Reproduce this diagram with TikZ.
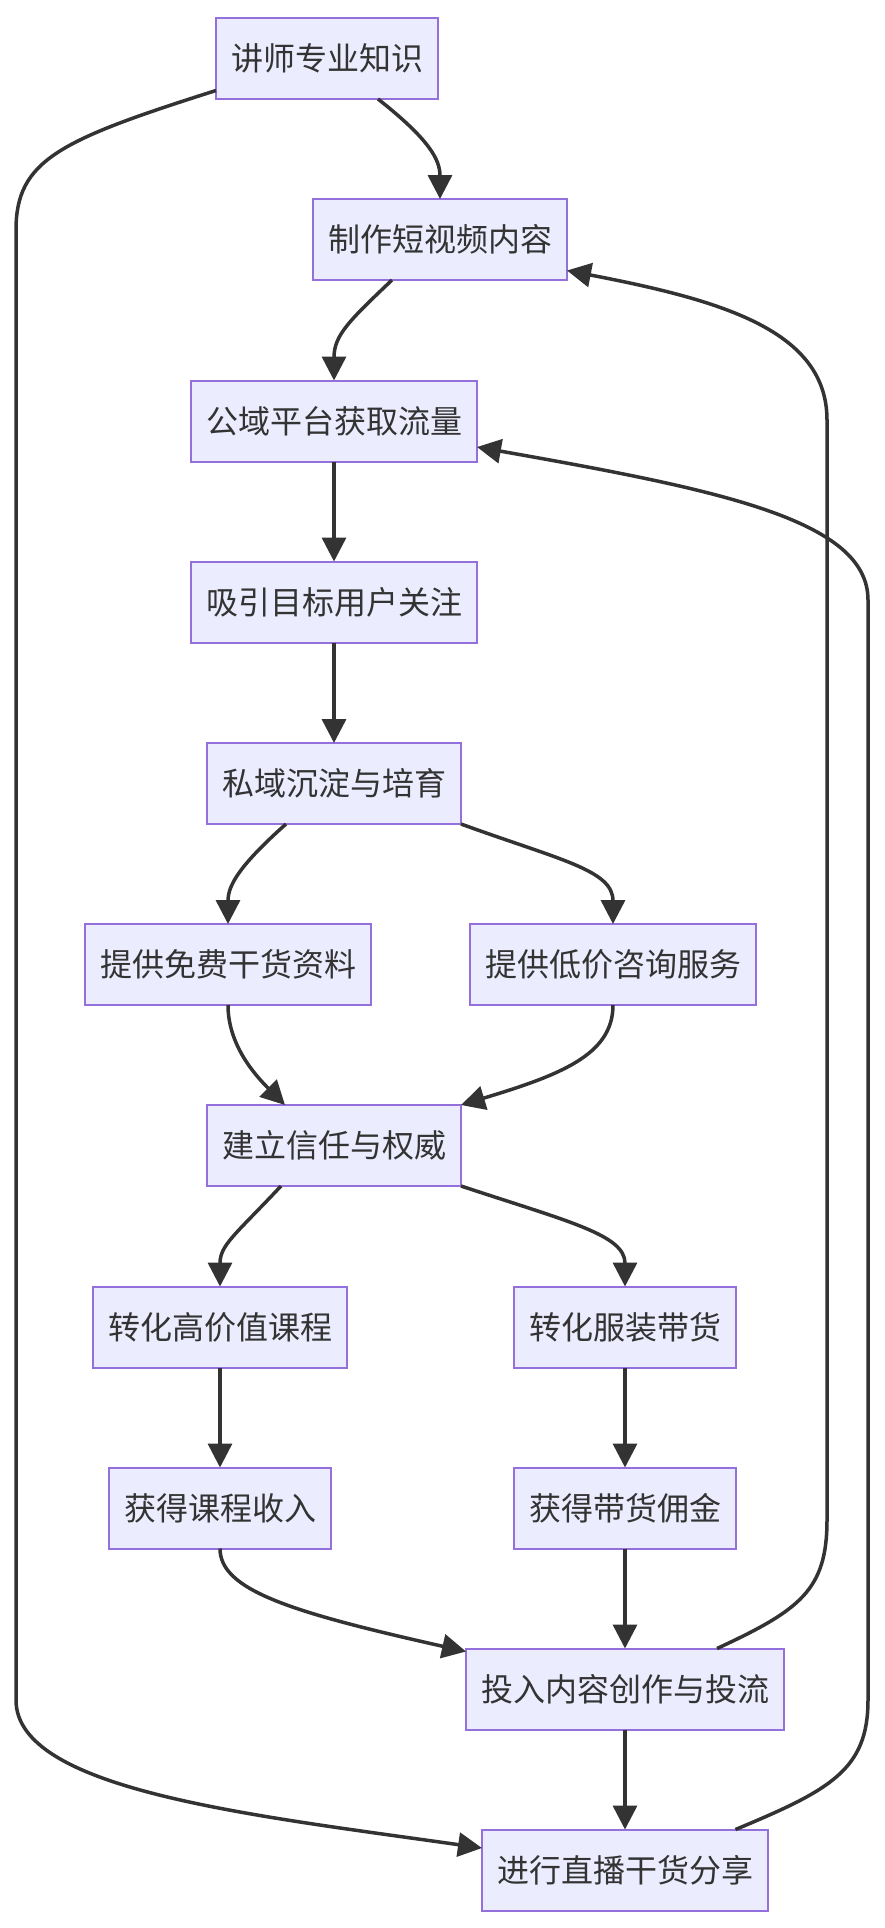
\documentclass[tikz,border=0pt]{standalone}
\usepackage{fontspec}
\newfontfamily\cjk{Noto Sans CJK SC}
\usetikzlibrary{arrows.meta,calc}
\definecolor{nodefill}{HTML}{ECECFF}
\definecolor{nodeline}{HTML}{9370DB}
\definecolor{edgecol}{HTML}{333333}
\tikzset{
  box/.style={draw=nodeline, fill=nodefill, line width=1pt, text=edgecol,
    font=\cjk\fontsize{16pt}{16pt}\selectfont, inner xsep=7.5pt, inner ysep=0pt,
    minimum height=40.5pt, outer sep=0pt},
  edge/.style={draw=edgecol, line width=1.75pt, -{Triangle[length=12pt,width=12pt]}}
}
\begin{document}
\begin{tikzpicture}[x=0.5pt,y=-0.5pt]
\path[use as bounding box, fill=white] (0,0) rectangle (884,1928);
\node[box] (n1) at (327,58.5) {讲师专业知识};
\node[box] (n2) at (440,239.5) {制作短视频内容};
\node[box] (n3) at (334,421) {公域平台获取流量};
\node[box] (n4) at (334,602) {吸引目标用户关注};
\node[box] (n5) at (334,783.5) {私域沉淀与培育};
\node[box] (n6) at (228,964.5) {提供免费干货资料};
\node[box] (n7) at (613,964.5) {提供低价咨询服务};
\node[box] (n8) at (334,1145.5) {建立信任与权威};
\node[box] (n9) at (220,1327) {转化高价值课程};
\node[box] (n10) at (625,1327) {转化服装带货};
\node[box] (n11) at (220,1508) {获得课程收入};
\node[box] (n12) at (625,1508) {获得带货佣金};
\node[box] (n13) at (625,1689) {投入内容创作与投流};
\node[box] (n14) at (625,1870) {进行直播干货分享};

\draw[edge] ($(n1.south)+(51,0)$) .. controls (430,140) and (440,160) .. (n2.north);
\draw[edge] ($(n1.west)+(0,32)$) .. controls (60,140) and (16,160) .. (16,230)
  -- (16,1700) .. controls (16,1790) and (250,1815) .. ($(n14.west)+(0,-22)$);
\draw[edge] ($(n2.south)+(-48,0)$) .. controls (350,320) and (334,335) .. (n3.north);
\draw[edge] (n3) -- (n4);
\draw[edge] (n4) -- (n5);
\draw[edge] ($(n5.south)+(-48,0)$) .. controls (240,865) and (228,885) .. (n6.north);
\draw[edge] (n5.south east) .. controls (560,860) and (613,870) .. (n7.north);
\draw[edge] (n6.south) .. controls (228,1045) and (255,1075) .. ($(n8.north)+(-49,0)$);
\draw[edge] (n7.south) .. controls (613,1055) and (560,1075) .. (n8.north east);
\draw[edge] ($(n8.south)+(-53,0)$) .. controls (235,1235) and (220,1245) .. (n9.north);
\draw[edge] (n8.south east) .. controls (570,1222) and (625,1235) .. (n10.north);
\draw[edge] (n9) -- (n11);
\draw[edge] (n10) -- (n12);
\draw[edge] (n11.south) .. controls (220,1590) and (290,1612) .. ($(n13.north west)+(0,3)$);
\draw[edge] (n12) -- (n13);
\draw[edge] (n13) -- (n14);
\draw[edge] ($(n13.north)+(92,0)$) .. controls (800,1610) and (827,1590) .. (827,1520)
  -- (827,420) .. controls (827,330) and (720,300) .. ($(n2.east)+(0,31)$);
\draw[edge] ($(n14.north)+(110.5,0)$) .. controls (830,1790) and (868,1770) .. (868,1700)
  -- (868,600) .. controls (868,520) and (720,490) .. ($(n3.east)+(0,26)$);
\end{tikzpicture}
\end{document}
